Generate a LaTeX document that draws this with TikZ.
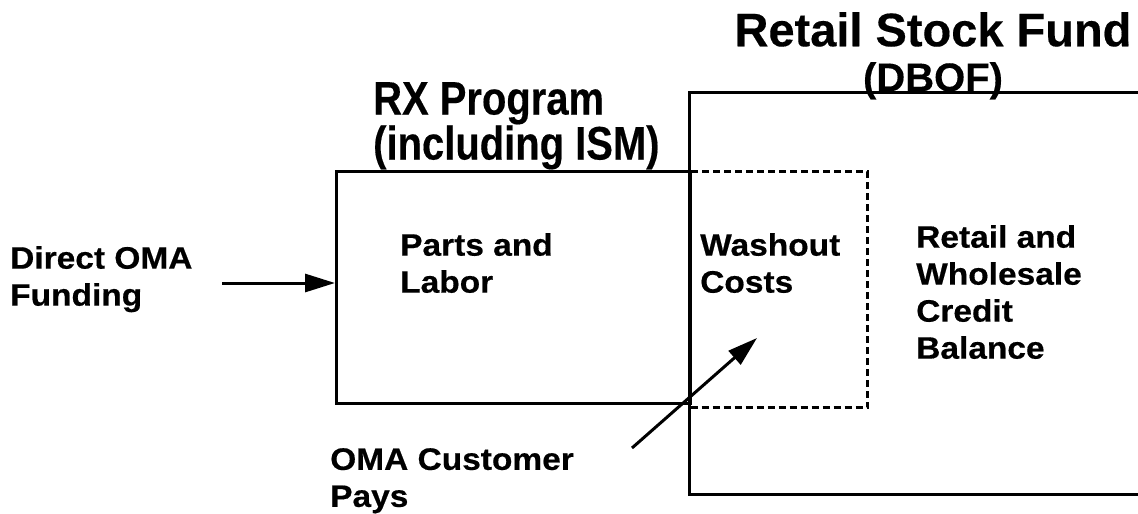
\documentclass[tikz,border=0pt]{standalone}
\usepackage{fontspec}
\setmainfont{Liberation Sans}
\newfontfamily\narrowsans[FakeStretch=0.85,FakeBold=0.3]{Liberation Sans}
\newfontfamily\widesans[FakeStretch=1.08,FakeBold=0.5]{Liberation Sans}
\newfontfamily\titlesans[FakeBold=0.3]{Liberation Sans}
\usetikzlibrary{arrows.meta}
\tikzset{
  label/.style={inner sep=0pt, anchor=north west, align=left,
    font=\widesans\bfseries\fontsize{31}{37}\selectfont},
  heading/.style={inner sep=0pt, anchor=north west, align=left,
    font=\narrowsans\bfseries\fontsize{47}{45}\selectfont},
  frame/.style={line width=3pt},
  dashframe/.style={line width=3pt, dash pattern=on 7pt off 4pt},
  flow/.style={line width=3pt, -{Triangle[length=30pt,width=18pt]}}
}
\begin{document}
\begin{tikzpicture}[x=1pt,y=-1pt]
\useasboundingbox (0,0) rectangle (1138,514);

% headings
\node[inner sep=0pt, anchor=north, font=\titlesans\bfseries\fontsize{47}{47}\selectfont] (rsf) at (933,12) {Retail Stock Fund};
\node[inner sep=0pt, anchor=north, font=\titlesans\bfseries\fontsize{40}{40}\selectfont] (dbof) at (933,62) {(DBOF)};
\node[heading] (rx) at (373,82) {RX Program\\(including ISM)};

% fund boundary (runs off to the right)
\draw[frame] (1140,92) -- (689,92) -- (689,494) -- (1140,494);
% RX program box
\node[frame, draw, minimum width=354pt, minimum height=232pt, inner sep=0pt, anchor=north west] (rxbox) at (335,170) {};
% washout area
\node[dashframe, draw, minimum width=177pt, minimum height=236pt, inner sep=0pt, anchor=north west] (wash) at (689,170) {};

% labels
\node[label] (direct) at (10,246) {Direct OMA\\Funding};
\node[label] (parts) at (400,233) {Parts and\\Labor};
\node[label] (washout) at (700,233) {Washout\\Costs};
\node[label] (retail) at (916,225) {Retail and\\Wholesale\\Credit\\Balance};
\node[label] (cust) at (330,448) {OMA Customer\\Pays};

% flows
\coordinate (fstart) at (222,283);
\draw[flow] (fstart) -- (fstart -| rxbox.west);
\coordinate (cstart) at (632,448);
\coordinate (cend) at (757,338);
\draw[flow] (cstart) -- (cend);
\end{tikzpicture}
\end{document}
